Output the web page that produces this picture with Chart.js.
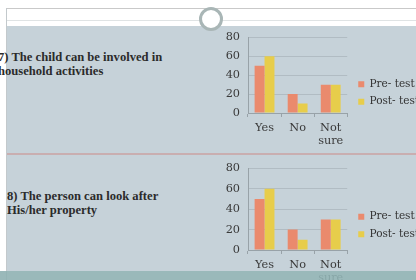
<!DOCTYPE html>
<html>
<head>
<meta charset="utf-8">
<script src="https://cdn.jsdelivr.net/npm/chart.js@4.4.1/dist/chart.umd.min.js"></script>
<style>
  html, body { margin:0; padding:0; width:416px; height:280px; overflow:hidden; background:#ffffff; }
  .abs { position:absolute; }
  #slideTop { left:6px; top:8px; width:410px; height:18px; background:#ffffff; border-top:1px solid #c9c9c9; box-sizing:border-box; }
  #topRule { left:6px; top:20px; width:410px; height:1px; background:#dfe3e4; }
  #slideBody { left:6px; top:26px; width:410px; height:245px; background:#c6d2d9; border-left:1px solid #b4bec4; box-sizing:border-box; }
  #leftEdge { left:6px; top:8px; width:1px; height:272px; background:#c3c9cc; }
  #divider { left:7px; top:153px; width:409px; height:2px; background:#c9aeb0; }
  #ring { left:199px; top:7px; width:18px; height:18px; border-radius:50%; border:3px solid #a9b6b6; background:#ffffff; }
  #band { left:0px; top:271px; width:416px; height:9px; background:rgba(143,177,178,0.9); }
  .q { font-family:"Liberation Serif", serif; font-weight:bold; font-size:12.6px; line-height:14px; color:#2b2b2b; white-space:nowrap; }
  canvas { position:absolute; }
</style>
</head>
<body>
<div class="abs" id="slideTop"></div>
<div class="abs" id="topRule"></div>
<div class="abs" id="slideBody"></div>
<div class="abs" id="leftEdge"></div>
<div class="abs" id="divider"></div>
<div class="abs" id="ring"></div>

<div class="abs q" style="left:-2px; top:50px;">7) The child can be involved in<br>household activities</div>
<div class="abs q" style="left:7px; top:189px;">8) The person can look after<br>His/her property</div>

<canvas id="c1" width="207" height="134" style="left:222px; top:26px;"></canvas>
<canvas id="c2" width="207" height="137" style="left:222px; top:157px;"></canvas>

<div class="abs" id="band"></div>

<script>
const categories = ['Yes', 'No', ['Not', 'sure']];
const seriesNames = ['Pre- test', 'Post- test'];
const q7PreTest = [50, 20, 30];
const q7PostTest = [60, 10, 30];
const q8PreTest = [50, 20, 30];
const q8PostTest = [60, 10, 30];
const yMin = 0, yMax = 80, yStep = 20;

const preColor = '#ea8a6d';
const postColor = '#e7cd4b';
const serif = '"DejaVu Serif", serif';

function makeChart(id, pre, post, xAxisH) {
  return new Chart(document.getElementById(id), {
    type: 'bar',
    data: {
      labels: categories,
      datasets: [
        { label: seriesNames[0], data: pre, backgroundColor: preColor, borderWidth: 0 },
        { label: seriesNames[1], data: post, backgroundColor: postColor, borderWidth: 0 }
      ]
    },
    options: {
      responsive: false,
      devicePixelRatio: 1,
      animation: false,
      events: [],
      layout: { padding: 0 },
      datasets: { bar: { categoryPercentage: 0.6, barPercentage: 1.0 } },
      plugins: {
        tooltip: { enabled: false },
        legend: {
          position: 'right',
          align: 'center',
          maxWidth: 120,
          labels: {
            boxWidth: 6, boxHeight: 6, padding: 7,
            color: '#333333',
            font: { family: serif, size: 10.5 }
          }
        }
      },
      scales: {
        x: {
          grid: { drawOnChartArea: false, drawTicks: true, tickLength: 4, color: '#98a2a8', offset: true },
          border: { display: true, color: '#98a2a8', width: 1 },
          ticks: { color: '#3a3a3a', padding: 5, maxRotation: 0, autoSkip: false,
                   font: { family: serif, size: 11.3, lineHeight: 1.15 } },
          afterFit(s) { s.height = xAxisH; }
        },
        y: {
          position: 'left',
          min: yMin, max: yMax,
          ticks: { stepSize: yStep, padding: 8, autoSkip: false, color: '#3a3a3a',
                   font: { family: serif, size: 11.3, lineHeight: 0.6 } },
          grid: { drawTicks: false, color: 'rgba(150,162,168,0.45)' },
          border: { display: true, color: '#98a2a8', width: 1 },
          afterFit(s) { s.width = 26; }
        },
        yR: {
          position: 'right',
          display: true,
          grid: { display: false },
          border: { display: false },
          ticks: { display: false },
          afterFit(s) { s.width = 4; }
        }
      }
    }
  });
}

makeChart('c1', q7PreTest, q7PostTest, 47);
makeChart('c2', q8PreTest, q8PostTest, 44);
</script>
</body>
</html>
